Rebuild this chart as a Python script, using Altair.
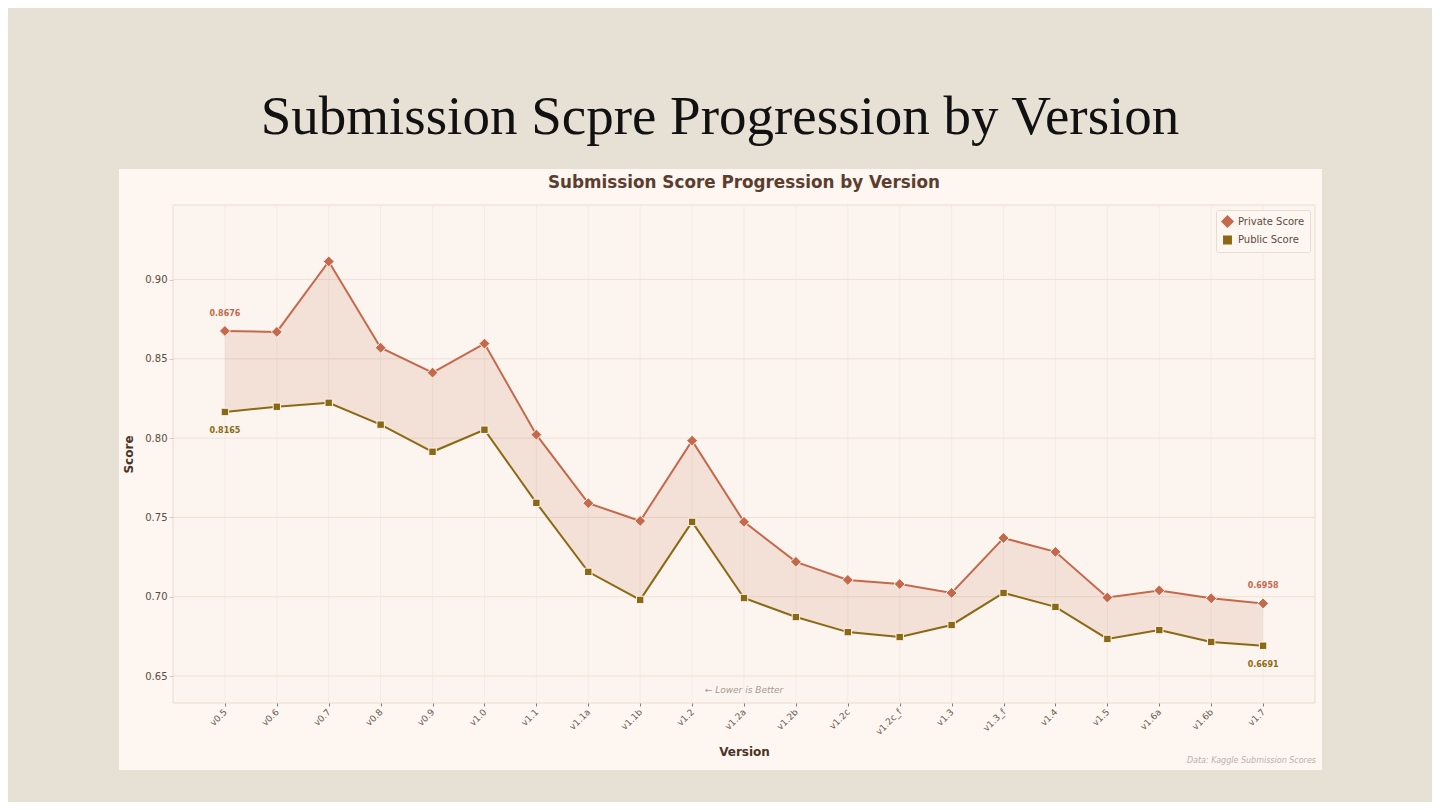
import altair as alt
import pandas as pd

versions = ["v0.5", "v0.6", "v0.7", "v0.8", "v0.9", "v1.0", "v1.1", "v1.1a", "v1.1b", "v1.2",
            "v1.2a", "v1.2b", "v1.2c", "v1.2c_f", "v1.3", "v1.3_f", "v1.4", "v1.5", "v1.6a", "v1.6b", "v1.7"]
private_scores = [0.8676, 0.8670, 0.9114, 0.8570, 0.8413, 0.8596, 0.8022, 0.7590, 0.7478, 0.7984,
                  0.7472, 0.7220, 0.7106, 0.7080, 0.7024, 0.7370, 0.7283, 0.6995, 0.7040, 0.6990, 0.6958]
public_scores = [0.8165, 0.8198, 0.8223, 0.8085, 0.7914, 0.8053, 0.7592, 0.7157, 0.6980, 0.7472,
                 0.6992, 0.6872, 0.6777, 0.6746, 0.6822, 0.7024, 0.6936, 0.6734, 0.6790, 0.6715, 0.6691]
y_ticks = [0.65, 0.70, 0.75, 0.80, 0.85, 0.90]
series_names = ["Private Score", "Public Score"]
series_colors = ["#c4694c", "#8b6914"]

W, H = 1142, 498
PANEL = "#fdf6f1"
SLIDE = "#e6e0d5"

wide = pd.DataFrame({"Version": versions, "Private": private_scores, "Public": public_scores})
long = pd.concat([
    pd.DataFrame({"Version": versions, "Score": private_scores, "Series": series_names[0]}),
    pd.DataFrame({"Version": versions, "Score": public_scores, "Series": series_names[1]}),
])

xscale = alt.Scale(type="point", padding=1)
xs = alt.X("Version:N", sort=versions, scale=xscale,
           axis=alt.Axis(title="Version", labelAngle=-45, labelFontSize=9, labelColor="#6a5a50",
                         titleFontSize=12, titleFontWeight="bold", titleColor="#4a3428",
                         titlePadding=10, domain=False, grid=False, tickColor="#8a7a70",
                         tickSize=3, labelPadding=4, zindex=1))
ys_scale = alt.Scale(domain=[0.633, 0.947], nice=False, zero=False)
ys = alt.Y("Score:Q", scale=ys_scale,
           axis=alt.Axis(title="Score", values=y_ticks, format=".2f", labelFontSize=10,
                         labelColor="#5e4b40", titleFontSize=12, titleFontWeight="bold",
                         titleColor="#4a3428", titlePadding=9, domain=False, grid=False,
                         tickColor="#d8c8bc", tickSize=4, zindex=1))

one = pd.DataFrame({"a": [0]})

panel = alt.Chart(one).mark_rect(fill=PANEL, clip=False).encode(
    x=alt.value(-54), x2=alt.value(1149), y=alt.value(-36), y2=alt.value(565))
plotbg = alt.Chart(one).mark_rect(fill="#fcf5ef", stroke="#eadbcf", strokeWidth=1).encode(
    x=alt.value(0), x2=alt.value(W), y=alt.value(0), y2=alt.value(H))

ygrid = alt.Chart(pd.DataFrame({"t": y_ticks})).mark_rule(color="#eee0d6", strokeWidth=1).encode(
    y=alt.Y("t:Q", scale=ys_scale))
xgrid = alt.Chart(pd.DataFrame({"Version": versions})).mark_rule(color="#f3e9e1", strokeWidth=0.8).encode(
    x=alt.X("Version:N", sort=versions, scale=xscale))

band = alt.Chart(wide).mark_area(color="#c4694c", opacity=0.15).encode(
    x=alt.X("Version:N", sort=versions, scale=xscale),
    y=alt.Y("Private:Q", scale=ys_scale), y2="Public:Q")

leg = alt.Legend(title=None, orient="top-right", offset=5,
                 fillColor=PANEL, strokeColor="#e8dcd2", padding=5,
                 labelFontSize=10, labelColor="#5e4b40",
                 symbolSize=60, rowPadding=3, cornerRadius=2)
color_enc = alt.Color("Series:N", scale=alt.Scale(domain=series_names, range=series_colors), legend=leg)
shape_enc = alt.Shape("Series:N", scale=alt.Scale(domain=series_names, range=["diamond", "square"]), legend=leg)
size_enc = alt.Size("Series:N", scale=alt.Scale(domain=series_names, range=[120, 55]), legend=None)

lines = alt.Chart(long).mark_line(strokeWidth=2).encode(x=xs, y=ys, color=color_enc, detail="Series:N")
points = alt.Chart(long).mark_point(filled=True, stroke="#fdf6f1", strokeWidth=1, opacity=1).encode(
    x=alt.X("Version:N", sort=versions, scale=xscale),
    y=alt.Y("Score:Q", scale=ys_scale), color=color_enc, shape=shape_enc, size=size_enc)

ends = [versions[0], versions[-1]]
ann_priv = pd.DataFrame({"Version": ends, "Score": [private_scores[0], private_scores[-1]],
                         "label": [f"{private_scores[0]:.4f}", f"{private_scores[-1]:.4f}"]})
ann_pub = pd.DataFrame({"Version": ends, "Score": [public_scores[0], public_scores[-1]],
                        "label": [f"{public_scores[0]:.4f}", f"{public_scores[-1]:.4f}"]})
xp = alt.X("Version:N", sort=versions, scale=xscale)
t_priv = alt.Chart(ann_priv).mark_text(dy=-17, fontSize=8, fontWeight="bold", color=series_colors[0]).encode(
    x=xp, y=alt.Y("Score:Q", scale=ys_scale), text="label:N")
t_pub = alt.Chart(ann_pub).mark_text(dy=19, fontSize=8, fontWeight="bold", color=series_colors[1]).encode(
    x=xp, y=alt.Y("Score:Q", scale=ys_scale), text="label:N")

def label(txt, x, y, **kw):
    return alt.Chart(pd.DataFrame({"t": [txt]})).mark_text(clip=False, **kw).encode(
        text="t:N", x=alt.value(x), y=alt.value(y))

slide_title = label("Submission Scpre Progression by Version", 547, -71, font="Liberation Serif",
                    fontSize=55, color="#111111", baseline="alphabetic", align="center")
inner_title = label("Submission Score Progression by Version", 571, -17, font="DejaVu Sans",
                    fontSize=16.8, fontWeight="bold", color="#5c3d2e", baseline="alphabetic", align="center")
lower = label("← Lower is Better", 571, 485, fontSize=9, fontStyle="italic", color="#a89a90",
              baseline="middle", align="center")
source = label("Data: Kaggle Submission Scores", 1143, 556, fontSize=8, fontStyle="italic",
               color="#bcb0a8", baseline="middle", align="right")

chart = alt.layer(panel, plotbg, xgrid, ygrid, band, lines, points, t_priv, t_pub,
                  slide_title, inner_title, lower, source).properties(
    width=W, height=H,
    autosize=alt.AutoSizeParams(type="none"),
    padding={"left": 165, "top": 197, "right": 117, "bottom": 99},
    background=SLIDE,
).configure_view(stroke=None).configure(font="DejaVu Sans")

chart.save("out.html", embed_options={"renderer": "svg", "actions": False})
